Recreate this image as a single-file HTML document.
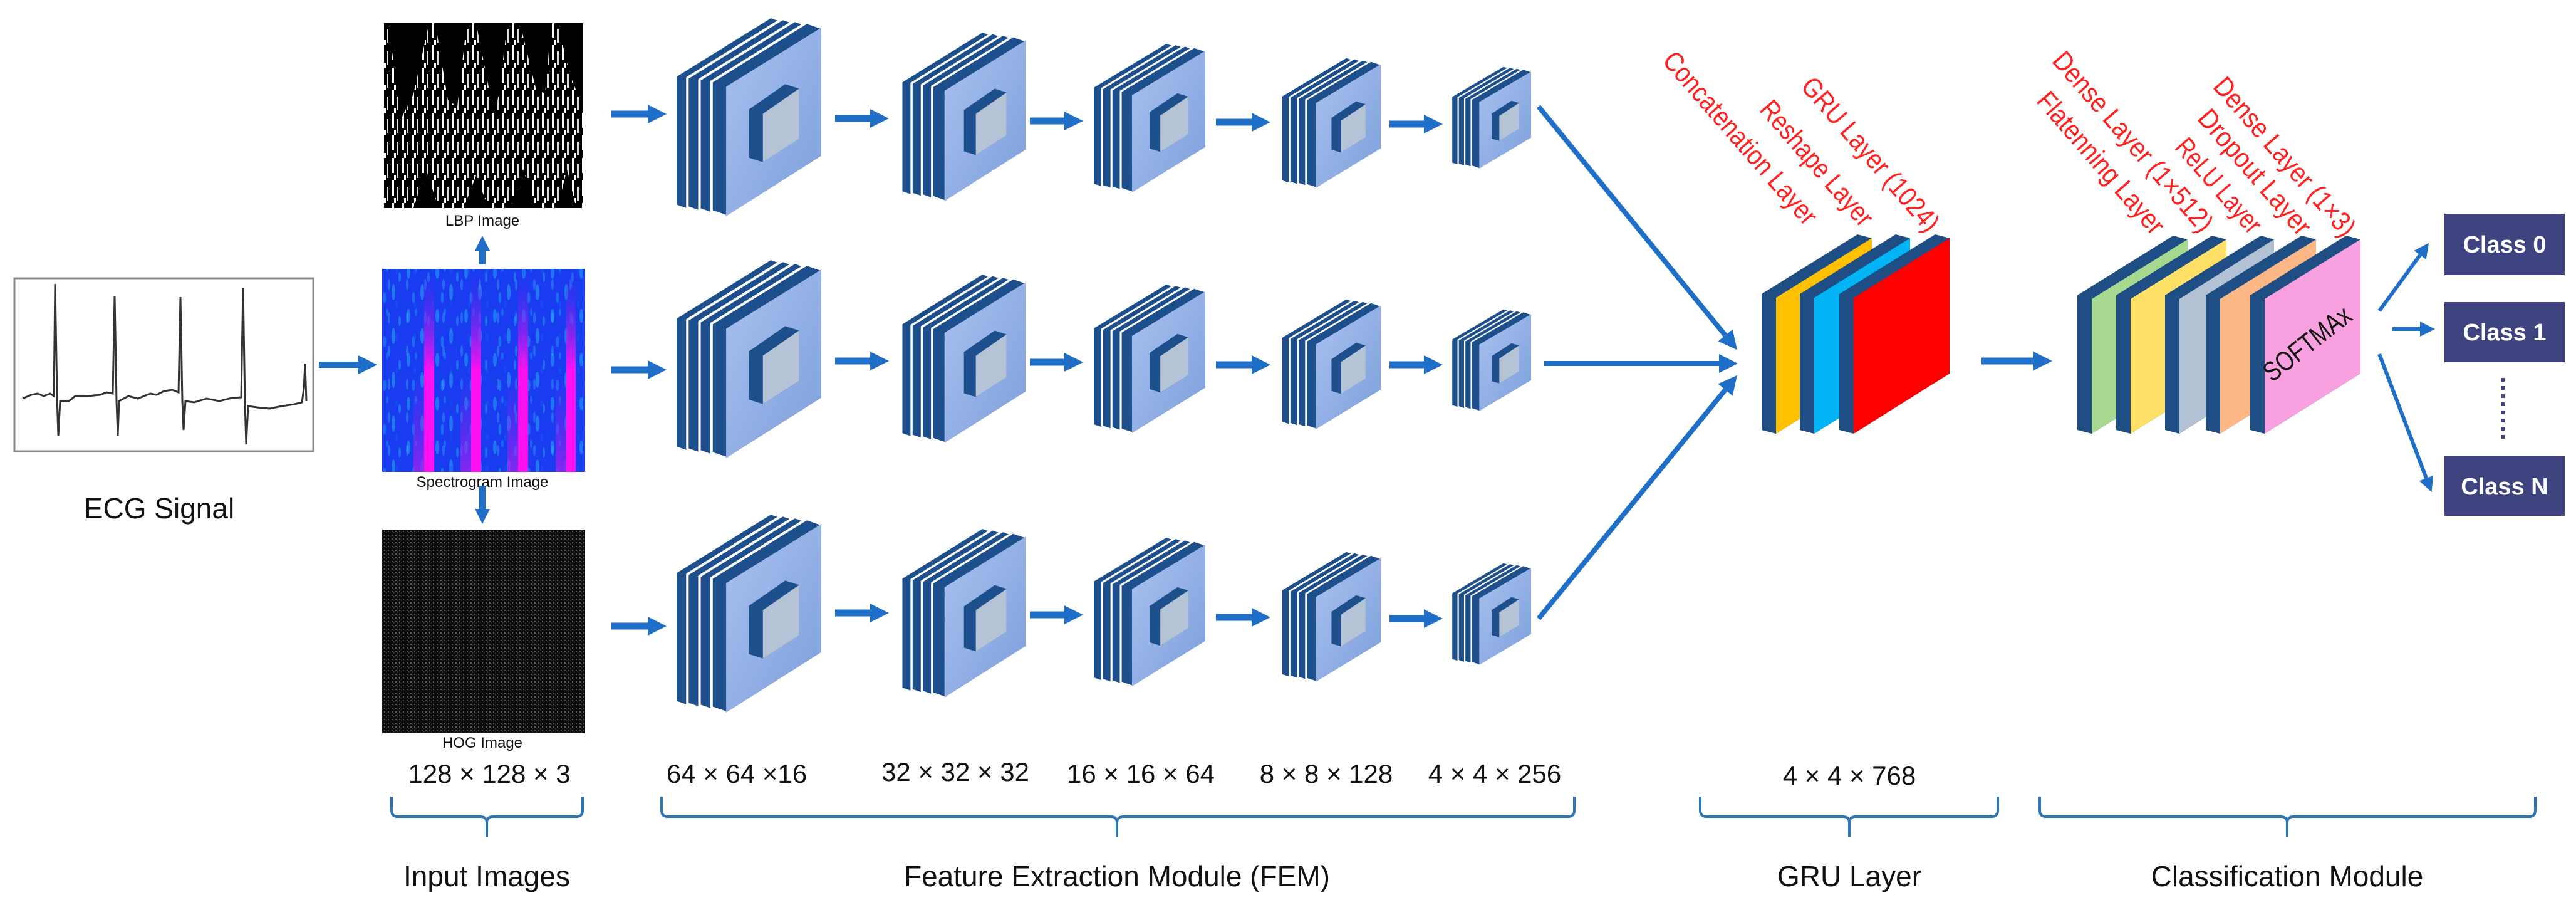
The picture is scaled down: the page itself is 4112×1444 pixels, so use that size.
<!DOCTYPE html>
<html><head><meta charset="utf-8"><style>
html,body{margin:0;padding:0;background:#fff;}
svg{display:block;}
text{font-family:"Liberation Sans",sans-serif;}
</style></head><body>
<svg width="4112" height="1444" viewBox="0 0 4112 1444" xmlns="http://www.w3.org/2000/svg">
<defs>
<linearGradient id="face" x1="0" y1="0" x2="1" y2="1">
<stop offset="0" stop-color="#a9c2ef"/><stop offset="1" stop-color="#7d9fdc"/>
</linearGradient>
<linearGradient id="mag" x1="0" y1="0" x2="0" y2="1">
<stop offset="0" stop-color="#3a20f0" stop-opacity="0"/><stop offset="0.25" stop-color="#9020f0" stop-opacity="0.6"/><stop offset="0.5" stop-color="#ff10f0"/><stop offset="1" stop-color="#ff10f0"/>
</linearGradient>
<linearGradient id="magdim" x1="0" y1="0" x2="0" y2="1">
<stop offset="0" stop-color="#8020f0" stop-opacity="0"/><stop offset="1" stop-color="#a020f0" stop-opacity="0.8"/>
</linearGradient>
<pattern id="lbp" width="16" height="36" patternUnits="userSpaceOnUse">
<rect x="1" y="0" width="4" height="24" fill="#fff"/><rect x="9" y="10" width="3" height="22" fill="#ddd"/><rect x="5" y="28" width="3" height="8" fill="#fff"/>
</pattern>
<pattern id="hog" width="6" height="6" patternUnits="userSpaceOnUse">
<rect width="6" height="6" fill="#0c0c0c"/><rect x="1" y="1" width="2" height="2" fill="#5a5a5a"/><rect x="4" y="3" width="1" height="2" fill="#3a3a3a"/>
</pattern>
<pattern id="spec" width="46" height="70" patternUnits="userSpaceOnUse">
<ellipse cx="8" cy="14" rx="3" ry="11" fill="#22c0f8" opacity="0.45"/><ellipse cx="30" cy="46" rx="3" ry="13" fill="#30d0f8" opacity="0.4"/><ellipse cx="20" cy="8" rx="2" ry="6" fill="#1890f8" opacity="0.5"/><ellipse cx="40" cy="22" rx="2" ry="8" fill="#28b8f8" opacity="0.4"/><ellipse cx="16" cy="55" rx="2.5" ry="9" fill="#1fa8f8" opacity="0.45"/>
</pattern>
<pattern id="spec2" width="29" height="53" patternUnits="userSpaceOnUse">
<ellipse cx="12" cy="30" rx="2" ry="9" fill="#40d8f8" opacity="0.3"/><ellipse cx="24" cy="8" rx="2" ry="6" fill="#1060f0" opacity="0.4"/>
</pattern>
<marker id="ah" viewBox="0 0 10 10" refX="0" refY="5" markerWidth="30" markerHeight="30" markerUnits="userSpaceOnUse" orient="auto"><path d="M0,0 L10,5 L0,10 z" fill="#1f6fc8"/></marker>
<marker id="ahs" viewBox="0 0 10 10" refX="0" refY="5" markerWidth="24" markerHeight="24" markerUnits="userSpaceOnUse" orient="auto"><path d="M0,0 L10,5 L0,10 z" fill="#1f6fc8"/></marker>
<g id="cube">
 <g stroke="#fff" stroke-width="4" stroke-linejoin="round" fill="#1c4f8c">
  <polygon transform="translate(-57,-9)" points="59,102 209,8 232,16 232,220 82,316 59,308"/>
  <polygon transform="translate(-38,-6)" points="59,102 209,8 232,16 232,220 82,316 59,308"/>
  <polygon transform="translate(-19,-3)" points="59,102 209,8 232,16 232,220 82,316 59,308"/>
  <polygon points="59,102 209,8 232,16 232,220 82,316 59,308"/>
 </g>
 <polygon points="82,110 232,16 232,220 82,316" fill="url(#face)"/>
 <polygon points="118,146 175,106 197,113 197,193 140,230 118,223" fill="#1c4f8c"/>
 <polygon points="140,153 197,113 197,193 140,230" fill="#b5c3d6"/>
</g>
</defs>
<rect width="4112" height="1444" fill="#fff"/>

<!-- ECG -->
<rect x="23" y="444" width="477" height="276" fill="#fff" stroke="#888" stroke-width="3"/>
<polyline fill="none" stroke="#333" stroke-width="3" points="36,636 50,630 60,628 70,632 80,628 86,632 88,453 91,632 93,695 96,640 110,640 120,632 140,632 160,630 170,626 180,628 183,472 186,640 188,695 190,640 205,632 220,636 240,628 250,630 262,624 275,622 285,626 288,474 291,640 293,686 296,640 310,642 330,636 350,640 370,635 385,634 388,460 391,645 393,709 396,648 410,650 430,652 450,648 470,645 482,642 485,620 487,580 489,640"/>
<text x="254" y="827" font-size="46" text-anchor="middle" fill="#111">ECG Signal</text>

<!-- LBP -->
<rect x="613" y="37" width="317" height="295" fill="#000"/>
<rect x="613" y="37" width="317" height="295" fill="url(#lbp)"/>
<g fill="#000">
<polygon points="620,37 685,37 660,150 640,190"/>
<polygon points="695,37 745,37 730,170 715,160"/>
<polygon points="760,37 810,37 800,120 790,190"/>
<polygon points="830,37 880,37 870,150 855,140"/>
<polygon points="890,37 930,37 930,170 910,120"/>
<polygon points="660,332 680,270 700,332"/>
<polygon points="740,332 760,280 780,332"/>
<polygon points="815,332 835,270 855,332"/>
<polygon points="890,332 905,270 920,332"/>
</g>
<text x="770" y="360" font-size="24" text-anchor="middle" fill="#111">LBP Image</text>

<!-- Spectrogram -->
<rect x="610" y="429" width="324" height="324" fill="#1a3cf0"/>
<rect x="610" y="429" width="324" height="324" fill="url(#spec)"/>
<rect x="610" y="429" width="324" height="324" fill="url(#spec2)"/>
<rect x="660" y="600" width="18" height="153" fill="url(#magdim)"/>
<rect x="735" y="600" width="18" height="153" fill="url(#magdim)"/>
<rect x="810" y="600" width="18" height="153" fill="url(#magdim)"/>
<rect x="887" y="600" width="18" height="153" fill="url(#magdim)"/>
<rect x="677" y="429" width="16" height="324" fill="url(#mag)"/>
<rect x="752" y="429" width="16" height="324" fill="url(#mag)"/>
<rect x="827" y="429" width="16" height="324" fill="url(#mag)"/>
<rect x="904" y="429" width="15" height="324" fill="url(#mag)"/>
<text x="770" y="777" font-size="24" text-anchor="middle" fill="#111">Spectrogram Image</text>

<!-- HOG -->
<rect x="610" y="845" width="324" height="325" fill="url(#hog)"/>
<text x="770" y="1193" font-size="24" text-anchor="middle" fill="#111">HOG Image</text>

<!-- small arrows -->
<g stroke="#1f6fc8" stroke-width="10">
<line x1="509" y1="582" x2="572" y2="582" marker-end="url(#ah)"/>
<line x1="770" y1="422" x2="770" y2="400" marker-end="url(#ahs)"/>
<line x1="770" y1="775" x2="770" y2="812" marker-end="url(#ahs)"/>
</g>

<!-- cubes -->
<g>
<use href="#cube" transform="translate(1076,28) scale(1.013,1.003)"/>
<use href="#cube" transform="translate(1076,414) scale(1.013,1.003)"/>
<use href="#cube" transform="translate(1076,820) scale(1.013,1.003)"/>
<use href="#cube" transform="translate(1437,51) scale(0.862,0.854)"/>
<use href="#cube" transform="translate(1437,437) scale(0.862,0.854)"/>
<use href="#cube" transform="translate(1437,843) scale(0.862,0.854)"/>
<use href="#cube" transform="translate(1743,69) scale(0.78,0.753)"/>
<use href="#cube" transform="translate(1743,453) scale(0.78,0.753)"/>
<use href="#cube" transform="translate(1743,857) scale(0.78,0.753)"/>
<use href="#cube" transform="translate(2044,92) scale(0.69,0.658)"/>
<use href="#cube" transform="translate(2044,477) scale(0.69,0.658)"/>
<use href="#cube" transform="translate(2044,880) scale(0.69,0.658)"/>
<use href="#cube" transform="translate(2316,106) scale(0.552,0.516)"/>
<use href="#cube" transform="translate(2316,493) scale(0.552,0.516)"/>
<use href="#cube" transform="translate(2316,898) scale(0.552,0.516)"/>
</g>

<!-- horizontal arrows -->
<g stroke="#1f6fc8" stroke-width="11">
<line x1="976" y1="182" x2="1034" y2="182" marker-end="url(#ah)"/>
<line x1="976" y1="590" x2="1034" y2="590" marker-end="url(#ah)"/>
<line x1="976" y1="999" x2="1034" y2="999" marker-end="url(#ah)"/>
<line x1="1333" y1="189" x2="1389" y2="189" marker-end="url(#ah)"/>
<line x1="1333" y1="576" x2="1389" y2="576" marker-end="url(#ah)"/>
<line x1="1333" y1="978" x2="1389" y2="978" marker-end="url(#ah)"/>
<line x1="1644" y1="193" x2="1699" y2="193" marker-end="url(#ah)"/>
<line x1="1644" y1="578" x2="1699" y2="578" marker-end="url(#ah)"/>
<line x1="1644" y1="981" x2="1699" y2="981" marker-end="url(#ah)"/>
<line x1="1941" y1="195" x2="1998" y2="195" marker-end="url(#ah)"/>
<line x1="1941" y1="582" x2="1998" y2="582" marker-end="url(#ah)"/>
<line x1="1941" y1="985" x2="1998" y2="985" marker-end="url(#ah)"/>
<line x1="2218" y1="198" x2="2273" y2="198" marker-end="url(#ah)"/>
<line x1="2218" y1="582" x2="2273" y2="582" marker-end="url(#ah)"/>
<line x1="2218" y1="987" x2="2273" y2="987" marker-end="url(#ah)"/>
<line x1="3163" y1="576" x2="3246" y2="576" marker-end="url(#ah)"/>
</g>
<g stroke="#1f6fc8" stroke-width="8">
<line x1="2456" y1="170" x2="2754" y2="535" marker-end="url(#ah)"/>
<line x1="2465" y1="580" x2="2744" y2="580" marker-end="url(#ah)"/>
<line x1="2456" y1="987" x2="2754" y2="622" marker-end="url(#ah)"/>
</g>
<g stroke="#1f6fc8" stroke-width="6">
<line x1="3798" y1="496" x2="3863" y2="407" marker-end="url(#ahs)"/>
<line x1="3819" y1="525" x2="3863" y2="525" marker-end="url(#ahs)"/>
<line x1="3798" y1="565" x2="3873" y2="763" marker-end="url(#ahs)"/>
</g>

<!-- GRU slabs -->
<g>
<polygon points="2812,469 2965,374 2988,380 2988,596 2835,692 2812,686" fill="#1f4e85"/>
<polygon points="2835,475 2988,380 2988,596 2835,692" fill="#ffc000"/>
<polygon points="2873,469 3026,374 3049,380 3049,596 2896,692 2873,686" fill="#1f4e85"/>
<polygon points="2896,475 3049,380 3049,596 2896,692" fill="#00b4f5"/>
<polygon points="2936,469 3089,374 3112,380 3112,596 2959,692 2936,686" fill="#1f4e85"/>
<polygon points="2959,475 3112,380 3112,596 2959,692" fill="#ff0000"/>
</g>
<!-- Dense slabs -->
<g>
<polygon points="3316,471 3469,376 3492,382 3492,596 3339,692 3316,686" fill="#1f4e85"/>
<polygon points="3339,477 3492,382 3492,596 3339,692" fill="#a6d890"/>
<polygon points="3378,471 3531,376 3554,382 3554,596 3401,692 3378,686" fill="#1f4e85"/>
<polygon points="3401,477 3554,382 3554,596 3401,692" fill="#ffe066"/>
<polygon points="3456,471 3609,376 3630,382 3630,596 3479,692 3456,686" fill="#1f4e85"/>
<polygon points="3479,477 3630,382 3630,596 3479,692" fill="#b2c1d4"/>
<polygon points="3521,471 3674,376 3697,382 3697,596 3544,692 3521,686" fill="#1f4e85"/>
<polygon points="3544,477 3697,382 3697,596 3544,692" fill="#fdb885"/>
<polygon points="3592,471 3745,376 3768,382 3768,596 3615,692 3592,686" fill="#1f4e85"/>
<polygon points="3615,477 3768,382 3768,596 3615,692" fill="#f9a0e0"/>
<text transform="translate(3692,560) rotate(-38)" font-size="44" text-anchor="middle" fill="#111" textLength="165" lengthAdjust="spacingAndGlyphs">SOFTMAx</text>
</g>

<!-- red labels -->
<g fill="#ff2020" font-size="44">
<text transform="translate(2652,98) rotate(49)" textLength="350" lengthAdjust="spacingAndGlyphs">Concatenation Layer</text>
<text transform="translate(2807,176) rotate(49)" textLength="250" lengthAdjust="spacingAndGlyphs">Reshape Layer</text>
<text transform="translate(2873,139) rotate(49)" textLength="310" lengthAdjust="spacingAndGlyphs">GRU Layer (1024)</text>
<text transform="translate(3274,98) rotate(49)" textLength="365" lengthAdjust="spacingAndGlyphs">Dense Layer (1×512)</text>
<text transform="translate(3249,162) rotate(49)" textLength="285" lengthAdjust="spacingAndGlyphs">Flatenning Layer</text>
<text transform="translate(3470,236) rotate(49)" textLength="185" lengthAdjust="spacingAndGlyphs">ReLU Layer</text>
<text transform="translate(3506,190) rotate(49)" textLength="250" lengthAdjust="spacingAndGlyphs">Dropout Layer</text>
<text transform="translate(3531,139) rotate(49)" textLength="320" lengthAdjust="spacingAndGlyphs">Dense Layer (1×3)</text>
</g>

<!-- class boxes -->
<g>
<rect x="3902" y="341" width="192" height="98" fill="#3f437f"/>
<rect x="3902" y="482" width="192" height="96" fill="#3f437f"/>
<rect x="3902" y="728" width="192" height="95" fill="#3f437f"/>
<g fill="#fff" font-size="38" font-weight="bold" text-anchor="middle">
<text x="3998" y="403">Class 0</text>
<text x="3998" y="543">Class 1</text>
<text x="3998" y="789">Class N</text>
</g>
<line x1="3995" y1="603" x2="3995" y2="707" stroke="#3f437f" stroke-width="6" stroke-dasharray="6,7"/>
</g>

<!-- dimension labels -->
<g font-size="42" fill="#111" text-anchor="middle">
<text x="781" y="1249">128 × 128 × 3</text>
<text x="1176" y="1249">64 × 64 ×16</text>
<text x="1525" y="1246">32 × 32 × 32</text>
<text x="1821" y="1249">16 × 16 × 64</text>
<text x="2117" y="1249">8 × 8 × 128</text>
<text x="2386" y="1249">4 × 4 × 256</text>
<text x="2952" y="1252">4 × 4 × 768</text>
</g>

<!-- braces -->
<g fill="none" stroke="#2e75b6" stroke-width="4">
<path d="M625,1271 L625,1293 Q625,1303 635,1303 L767,1303 Q777,1303 777,1313 L777,1336 M777,1313 Q777,1303 787,1303 L920,1303 Q930,1303 930,1293 L930,1271"/>
<path d="M1056,1271 L1056,1293 Q1056,1303 1066,1303 L1773,1303 Q1783,1303 1783,1313 L1783,1336 M1783,1313 Q1783,1303 1793,1303 L2503,1303 Q2513,1303 2513,1293 L2513,1271"/>
<path d="M2714,1271 L2714,1293 Q2714,1303 2724,1303 L2942,1303 Q2952,1303 2952,1313 L2952,1336 M2952,1313 Q2952,1303 2962,1303 L3179,1303 Q3189,1303 3189,1293 L3189,1271"/>
<path d="M3256,1271 L3256,1293 Q3256,1303 3266,1303 L3641,1303 Q3651,1303 3651,1313 L3651,1336 M3651,1313 Q3651,1303 3661,1303 L4037,1303 Q4047,1303 4047,1293 L4047,1271"/>
</g>
<g font-size="46" fill="#111" text-anchor="middle">
<text x="777" y="1414">Input Images</text>
<text x="1783" y="1414">Feature Extraction Module (FEM)</text>
<text x="2952" y="1414">GRU Layer</text>
<text x="3651" y="1414">Classification Module</text>
</g>
</svg>
</body></html>
